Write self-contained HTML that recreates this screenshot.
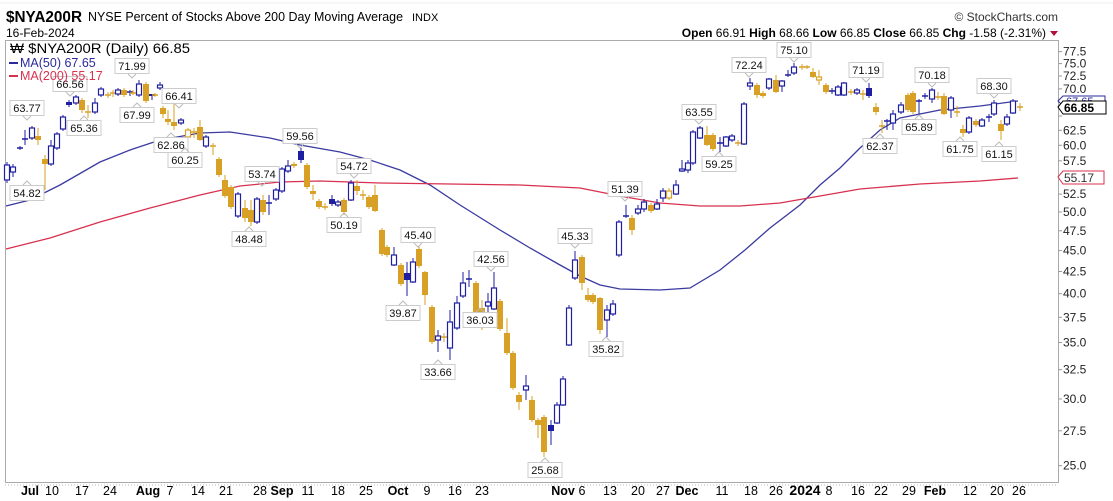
<!DOCTYPE html>
<html><head><meta charset="utf-8"><style>
body{margin:0;background:#fff;width:1113px;height:501px;overflow:hidden;font-family:"Liberation Sans",Arial,sans-serif}
svg{position:absolute;left:0;top:0}
</style></head><body>
<svg id="s" width="1113" height="501" xmlns="http://www.w3.org/2000/svg" font-family="Liberation Sans, Arial, sans-serif">
<rect x="0" y="0" width="1113" height="501" fill="#fff"/>
<line x1="0" y1="3" x2="1113" y2="3" stroke="#eee"/>
<text x="6" y="22" font-size="16" font-weight="bold" fill="#000" textLength="76" lengthAdjust="spacingAndGlyphs">$NYA200R</text>
<text x="88" y="21" font-size="12.5" fill="#000" textLength="315" lengthAdjust="spacingAndGlyphs">NYSE Percent of Stocks Above 200 Day Moving Average</text>
<text x="412" y="21" font-size="11" fill="#000">INDX</text>
<text x="6" y="37" font-size="12" fill="#000">16-Feb-2024</text>
<text x="1058" y="21" font-size="12" fill="#333" text-anchor="end">© StockCharts.com</text>
<text x="1046" y="37" font-size="12" fill="#000" text-anchor="end"><tspan font-weight="bold">Open</tspan> 66.91  <tspan font-weight="bold">High</tspan> 68.66  <tspan font-weight="bold">Low</tspan> 66.85  <tspan font-weight="bold">Close</tspan> 66.85  <tspan font-weight="bold">Chg</tspan> -1.58 (-2.31%)</text>
<polygon points="1050,31 1058,31 1054,36" fill="#b0103a"/>
<rect x="5.5" y="40.5" width="1053" height="442" fill="none" stroke="#aaa"/>
<line x1="5" y1="485" x2="1058" y2="485" stroke="#bbb" stroke-dasharray="1,2"/>
<g id="ma"></g>
<g id="c"></g>
<g id="lb" font-size="11"></g>
<g id="ax" font-size="12" fill="#222"></g>
<text x="10" y="53" font-size="13.5" fill="#000" textLength="180" lengthAdjust="spacingAndGlyphs">₩ $NYA200R (Daily) 66.85</text>
<line x1="9" y1="63" x2="18" y2="63" stroke="#2a2a9c" stroke-width="2"/>
<text x="20" y="67" font-size="12.5" fill="#2a2a9c">MA(50) 67.65</text>
<line x1="9" y1="76" x2="18" y2="76" stroke="#d8314f" stroke-width="2"/>
<text x="20" y="80" font-size="12.5" fill="#d8314f">MA(200) 55.17</text>
<g font-size="12.5" fill="#000" text-anchor="middle">
<text x="30" y="495" font-weight="bold">Jul</text><text x="52" y="495">10</text><text x="82" y="495">17</text><text x="110" y="495">24</text>
<text x="148" y="495" font-weight="bold">Aug</text><text x="170" y="495">7</text><text x="198" y="495">14</text><text x="226" y="495">21</text><text x="260" y="495">28</text>
<text x="282" y="495" font-weight="bold">Sep</text><text x="308" y="495">11</text><text x="338" y="495">18</text><text x="366" y="495">25</text>
<text x="398" y="495" font-weight="bold">Oct</text><text x="427" y="495">9</text><text x="455" y="495">16</text><text x="482" y="495">23</text>
<text x="563" y="495" font-weight="bold">Nov</text><text x="582" y="495">6</text><text x="610" y="495">13</text><text x="638" y="495">20</text><text x="663" y="495">27</text>
<text x="687" y="495" font-weight="bold">Dec</text><text x="722" y="495">11</text><text x="751" y="495">18</text><text x="776" y="495">26</text>
<text x="805" y="495" font-weight="bold" font-size="14">2024</text><text x="829" y="495">8</text><text x="858" y="495">16</text><text x="881" y="495">22</text><text x="909" y="495">29</text>
<text x="935" y="495" font-weight="bold">Feb</text><text x="970" y="495">12</text><text x="997" y="495">20</text><text x="1019" y="495">26</text>
</g>
</svg>
<script>
var NS="http://www.w3.org/2000/svg";
function el(p,t,a,txt){var e=document.createElementNS(NS,t);for(var k in a)e.setAttribute(k,a[k]);if(txt!==undefined)e.textContent=txt;document.getElementById(p).appendChild(e);return e;}
function Y(v){return 212-366*Math.log(v/50);}
for(var v=25;v<=77.6;v+=2.5){var y=Y(v);el('ax','line',{x1:1058,y1:y,x2:1062,y2:y,stroke:'#999'});
 if(Math.abs(v-67.5)>0.1&&Math.abs(v-65)>0.1&&Math.abs(v-55)>0.1)el('ax','text',{x:1063,y:y+4},v.toFixed(1));}
function pl(pts,c){el('ma','polyline',{points:pts.map(function(p){return p.join(',')}).join(' '),fill:'none',stroke:c,'stroke-width':1.3});}
pl([[6,206],[30,200],[60,185],[100,162],[130,150],[160,140],[200,133],[230,132],[270,138],[300,145],[340,152],[370,160],[400,170],[430,185],[460,205],[500,230],[530,248],[560,265],[580,276],[600,285],[620,289],[660,290],[690,288],[720,270],[745,250],[770,228],[800,205],[820,185],[840,168],[860,148],[880,130],[900,118],[940,110],[980,106],[1018,101]],'#3a3aa0');
pl([[6,249],[50,238],[100,222],[150,208],[200,195],[240,186],[280,182],[320,181],[380,183],[450,184],[520,185],[580,188],[620,196],[660,203],[700,206],[740,206],[780,203],[820,196],[860,189],[920,184],[980,181],[1018,178]],'#d8314f');
var C=[[7,165,180,'b',162,183],[13,167,172,'b',164,177],[20,148,148,'b'],[25,139,139,'b',130,145],[32,128,138,'b',126,140],[38,136,140,'g',128,145],[45,159,164,'g',155,190],
[51,146,164,'b',140,166],[57,134,148,'b',132,150],[63,117,129,'b'],[69,102,105,'B'],[76,97,103,'b'],[82,100,110,'g',98,113],[88,112,112,'g',105,118],[95,103,112,'b',98,114],[101,89,95,'b'],
[108,95,95,'g',92,98],[113,93,93,'g',90,97],[118,90,94,'b'],[124,90,95,'g'],[130,92,93,'B',90,96],[133,93,93,'g',90,95],[139,84,95,'b',80,97],[146,84,101,'g'],[152,94,96,'B',94,100],[155,95,95,'g'],[160,85,88,'b',82,90],
[163,108,114,'g',106,118],[168,119,122,'g',110,125],[174,122,126,'g',100,130],[181,120,123,'b'],[188,130,137,'G'],[194,132,132,'g',128,138],[200,127,140,'g',120,141],[206,137,146,'b'],[213,146,146,'g',143,155],
[219,159,175,'g'],[225,180,196,'g',175,198],[231,187,207,'g'],[238,194,216,'b'],[245,208,218,'g',200,222],[251,210,222,'g',200,226],[257,199,222,'b'],[263,200,212,'g',195,215],[269,203,203,'B',195,215],[276,190,199,'b'],
[282,169,191,'b'],[288,166,171,'b',160,173],[294,164,166,'g'],[301,151,160,'B',148,163],[307,165,187,'g'],[313,191,194,'g',185,200],[319,201,207,'g'],[325,207,207,'g',203,210],[332,199,204,'B',195,206],[338,202,205,'b'],[344,200,212,'g',198,215],
[351,183,200,'b',180,201],[357,186,191,'g',180,195],[363,195,195,'g',190,200],[369,197,207,'g'],[375,195,211,'g',185,212],[382,230,254,'g'],[387,247,255,'g'],[394,255,265,'b',247,266],[401,265,284,'g'],[407,273,280,'B',262,296],[413,262,282,'b',258,283],[419,249,266,'g',246,268],
[425,272,295,'g',271,305],[432,307,342,'g'],[438,336,340,'b',330,352],[444,337,337,'g',333,342],[450,322,348,'b',310,360],[457,303,328,'b',296,330],[463,283,296,'b',272,298],[469,279,279,'b',270,287],[476,283,312,'g'],[482,308,325,'g',300,330],[488,302,306,'b',293,318],[494,288,309,'b',272,310],
[500,301,329,'g'],[507,333,353,'g',318,355],[513,353,388,'g'],[519,395,402,'g',392,410],[526,386,390,'b',375,400],[532,400,420,'g',396,422],[538,420,425,'g',418,438],[544,417,452,'g',415,457],[551,425,431,'B',420,445],[557,405,423,'b',402,424],[563,379,405,'b',376,406],
[569,308,345,'b',305,346],[575,260,278,'b',251,280],[582,257,283,'g',255,290],[588,295,300,'g',288,302],[593,295,302,'g'],[600,298,330,'g',297,334],[607,310,320,'b',305,337],[613,304,314,'b',300,316],
[619,222,255,'b'],[626,216,216,'B',205,218],[632,218,230,'g',215,235],[638,209,213,'b',205,215],[644,202,209,'b',199,212],[651,205,211,'g'],[657,204,209,'b',199,210],[663,191,198,'b',188,202],[669,191,198,'G',188,200],[676,185,194,'b',180,195],
[682,169,171,'b',160,172],[688,163,170,'b',160,173],[693,132,163,'b'],[700,128,138,'b',126,139],[707,135,145,'g',126,146],[713,135,149,'g'],[720,143,143,'b',137,152],[726,137,146,'b',136,147],[732,136,140,'b',134,142],[738,143,143,'g',140,146],[744,104,144,'b',102,145],
[750,83,86,'b',78,90],[757,85,95,'g',83,98],[763,93,96,'g'],[769,79,88,'b',78,90],[776,80,92,'g',75,93],[782,81,86,'b',80,92],[788,75,75,'b',70,77],[794,67,73,'b',63,75],[802,67,67,'g',64,70],[807,67,67,'g'],
[813,72,77,'g',68,78],[819,77,80,'G',70,85],[826,85,92,'g',83,94],[832,91,91,'b',88,94],[838,87,95,'b',85,96],[844,83,95,'b',82,96],[851,92,92,'g',89,95],[857,90,93,'b',88,95],[863,94,94,'g',90,100],[869,88,96,'B',83,98],
[876,107,112,'g',103,115],[882,126,126,'g',120,133],[887,121,121,'B',119,130],[893,114,123,'b',110,130],[901,105,112,'b',102,114],[908,95,110,'g',93,112],[913,93,112,'g'],[919,101,101,'B',99,115],[925,96,96,'b',93,99],[932,90,99,'b',88,103],
[938,97,97,'g',92,100],[944,96,114,'g',93,115],[951,98,110,'b',96,118],[957,112,112,'g',106,117],[963,129,133,'g',125,137],[969,118,132,'b',116,134],[976,121,125,'g'],[982,120,126,'b',118,127],[989,117,117,'B',114,122],[994,103,114,'b',100,116],
[1001,124,131,'g',120,140],[1007,117,124,'b',114,126],[1013,101,113,'b',99,114],[1020,107,107,'g',103,111]];
var BL='#1e1ea0',GD='#d9a026';
C.forEach(function(c){var x=c[0],t=c[1],b=c[2],ty=c[3],hi=c[4]!==undefined?c[4]:t-2,lo=c[5]!==undefined?c[5]:b+2;
 var col=(ty=='b'||ty=='B')?BL:GD;
 el('c','line',{x1:x,y1:hi,x2:x,y2:lo,stroke:col,'stroke-width':1});
 if(b-t<1.5){el('c','line',{x1:x-3,y1:t,x2:x+3,y2:t,stroke:col,'stroke-width':1.5});}
 else if(ty=='b'||ty=='G'){el('c','rect',{x:x-2.5,y:t,width:5,height:b-t,fill:'#fff',stroke:col,'stroke-width':1.2});}
 else el('c','rect',{x:x-3,y:t,width:6,height:b-t,fill:col});
});
var L=[['63.77',27,108,'d'],['54.82',27,193,'u'],['65.36',84,128,'u'],['66.56',70,84,'d'],['71.99',132,66,'d'],['67.99',137,115,'u'],['66.41',179,96,'d'],['62.86',171,145,'u'],['60.25',185,160,'u'],
['53.74',262,174,'d'],['48.48',249,239,'u'],['59.56',300,136,'d'],['54.72',354,166,'d'],['50.19',344,225,'u'],['45.40',418,235,'d'],['39.87',403,313,'u'],['42.56',491,259,'d'],['36.03',480,320,'u'],['33.66',438,372,'u'],
['25.68',545,470,'u'],['45.33',575,236,'d'],['35.82',606,349,'u'],['51.39',625,189,'d'],['63.55',699,112,'d'],['59.25',719,164,'u'],['72.24',749,65,'d'],['75.10',794,50,'d'],['71.19',866,70,'d'],['62.37',880,146,'u'],
['65.89',919,127,'u'],['70.18',932,75,'d'],['61.75',960,149,'u'],['68.30',994,86,'d'],['61.15',999,154,'u']];
L.forEach(function(l){var cx=l[1],cy=l[2];
 el('lb','rect',{x:cx-17,y:cy-7.5,width:34,height:15,fill:'#fff',stroke:'#ccc'});
 if(l[3]=='d')el('lb','polyline',{points:(cx-4)+','+(cy+8)+' '+cx+','+(cy+12)+' '+(cx+4)+','+(cy+8),fill:'none',stroke:'#bbb'});
 else el('lb','polyline',{points:(cx-4)+','+(cy-8)+' '+cx+','+(cy-12)+' '+(cx+4)+','+(cy-8),fill:'none',stroke:'#bbb'});
 el('lb','text',{x:cx,y:cy+4,'text-anchor':'middle',fill:'#111'},l[0]);
});
el('ax','polygon',{points:'1058,101 1063,96 1105,96 1105,106 1063,106',fill:'#fff',stroke:'#2a2a9c'});
el('ax','text',{x:1066,y:105,fill:'#2a2a9c','font-size':11},'67.65');
el('ax','polygon',{points:'1058,107 1063,101 1106,101 1106,114 1063,114',fill:'#fff',stroke:'#000'});
el('ax','text',{x:1064,y:112,fill:'#000','font-size':12,'font-weight':'bold'},'66.85');
el('ax','polygon',{points:'1058,177 1063,171 1104,171 1104,184 1063,184',fill:'#fff',stroke:'#d8314f'});
el('ax','text',{x:1064,y:182,fill:'#333','font-size':12},'55.17');
</script>
</body></html>
